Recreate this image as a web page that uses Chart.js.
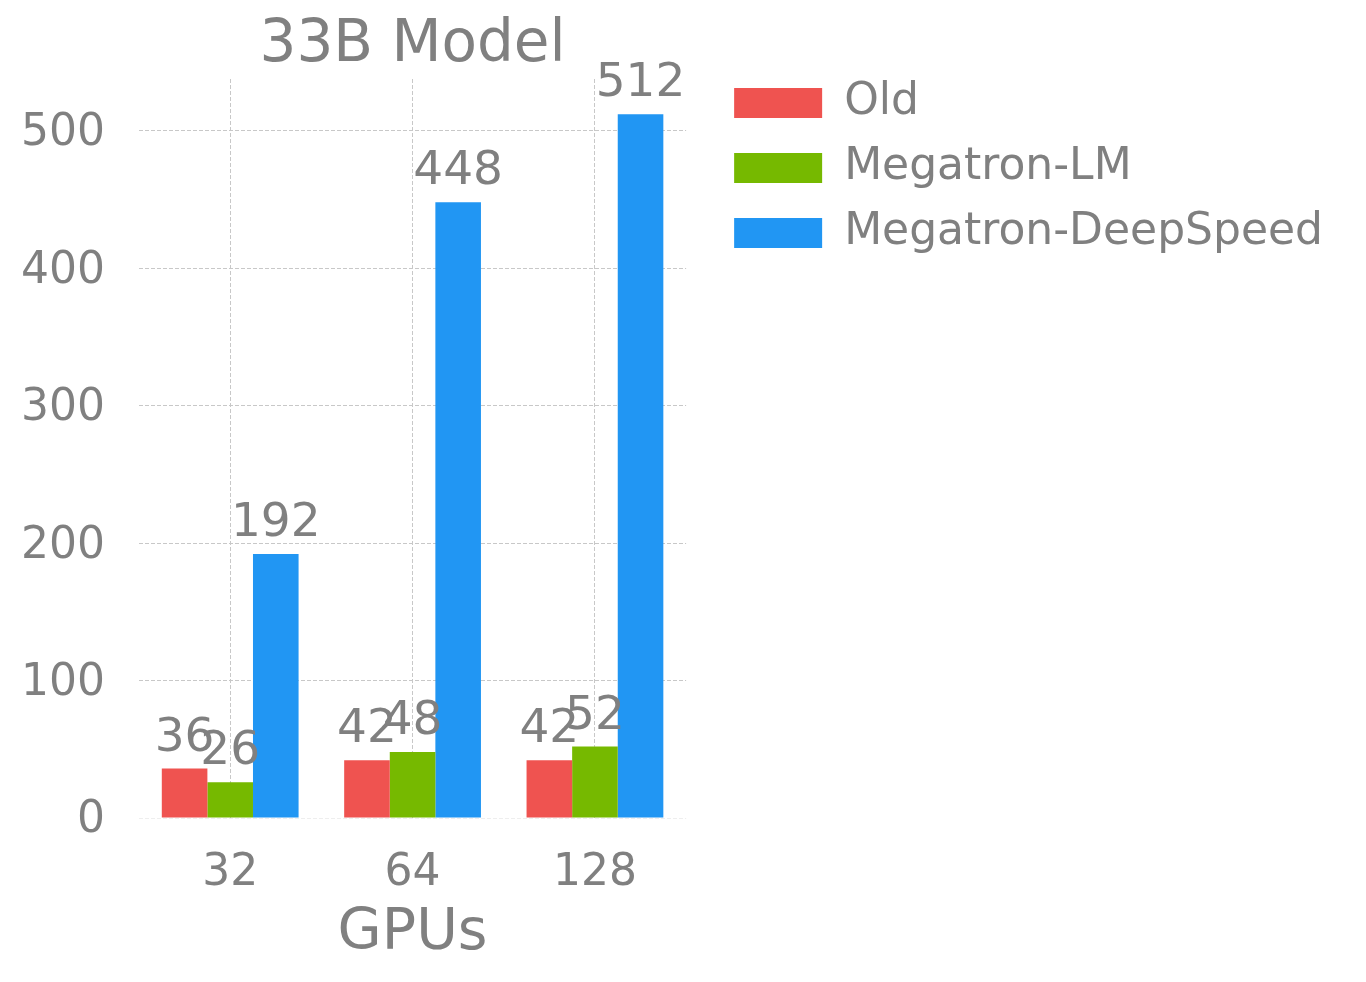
<!DOCTYPE html>
<html>
<head>
<meta charset="utf-8">
<script src="https://cdn.jsdelivr.net/npm/chart.js@4"></script>
<style>
  html, body { margin: 0; padding: 0; background: #ffffff; }
  #wrap { width: 1366px; height: 982px; position: relative; }
</style>
</head>
<body>
<div id="wrap"><canvas id="c" width="1366" height="982"></canvas></div>
<script>
const categories = ['32', '64', '128'];
const seriesNames = ['Old', 'Megatron-LM', 'Megatron-DeepSpeed'];
const oldValues = [36, 42, 42];
const megatronLMValues = [26, 48, 52];
const deepSpeedValues = [192, 448, 512];
const yTicks = [0, 100, 200, 300, 400, 500];
const chartTitle = '33B Model';
const xTitle = 'GPUs';

const FONT = '"DejaVu Sans", sans-serif';
const GRAY = '#808080';
const GRID = '#c8c8c8';

const valueLabels = {
  id: 'valueLabels',
  afterDraw(chart) {
    const ctx = chart.ctx;
    ctx.save();
    ctx.font = '47px ' + FONT;
    ctx.fillStyle = GRAY;
    ctx.textAlign = 'center';
    ctx.textBaseline = 'alphabetic';
    chart.data.datasets.forEach((ds, i) => {
      chart.getDatasetMeta(i).data.forEach((bar, j) => {
        ctx.fillText(String(ds.data[j]), bar.x, bar.y - 18);
      });
    });
    ctx.restore();
  }
};

new Chart(document.getElementById('c'), {
  type: 'bar',
  data: {
    labels: categories,
    datasets: [
      { label: seriesNames[0], data: oldValues, backgroundColor: '#EF5350' },
      { label: seriesNames[1], data: megatronLMValues, backgroundColor: '#76B900' },
      { label: seriesNames[2], data: deepSpeedValues, backgroundColor: '#2196F3' }
    ]
  },
  options: {
    responsive: false,
    animation: false,
    devicePixelRatio: 1,
    categoryPercentage: 0.75,
    barPercentage: 1.0,
    layout: { padding: { left: 21, right: 33, top: 0, bottom: 0 } },
    plugins: {
      title: {
        display: true,
        text: chartTitle,
        fullSize: false,
        color: GRAY,
        font: { family: FONT, size: 58, weight: 'normal', lineHeight: 1.0 },
        padding: { top: 17, bottom: 4 }
      },
      legend: {
        display: true,
        position: 'right',
        align: 'start',
        maxWidth: 800,
        title: { display: true, text: ' ', font: { size: 10, lineHeight: 1 }, padding: { top: 50, bottom: 0 } },
        labels: {
          color: GRAY,
          font: { family: FONT, size: 44 },
          boxWidth: 88,
          boxHeight: 30,
          padding: 21
        }
      },
      tooltip: { enabled: false }
    },
    scales: {
      x: {
        z: 1,
        offset: true,
        afterFit: (scale) => { scale.height = 164; },
        grid: { display: true, offset: false, drawTicks: false, color: GRID, lineWidth: 1 },
        border: { display: false, dash: [4, 2] },
        ticks: { color: GRAY, font: { family: FONT, size: 44 }, padding: 29 },
        title: {
          display: true, text: xTitle, color: GRAY,
          font: { family: FONT, size: 57, weight: 'normal', lineHeight: 1.2 },
          padding: { top: 0, bottom: 14 }
        }
      },
      y: {
        z: 1,
        min: 0,
        max: 537.6,
        afterBuildTicks: (scale) => { scale.ticks = yTicks.map(v => ({ value: v })); },
        afterFit: (scale) => { scale.width = 118; },
        grid: {
          display: true, drawTicks: false, lineWidth: 1,
          color: (c) => (c.tick && c.tick.value === 0) ? '#eeeeee' : GRID
        },
        border: { display: false, dash: [4, 2] },
        ticks: { color: GRAY, font: { family: FONT, size: 44 }, padding: 34, labelOffset: 3 }
      },
      pad: {
        type: 'linear',
        position: 'right',
        display: true,
        grid: { display: false },
        border: { display: false },
        ticks: { display: false },
        afterFit: (scale) => { scale.width = 27; }
      }
    }
  },
  plugins: [valueLabels]
});
</script>
</body>
</html>
